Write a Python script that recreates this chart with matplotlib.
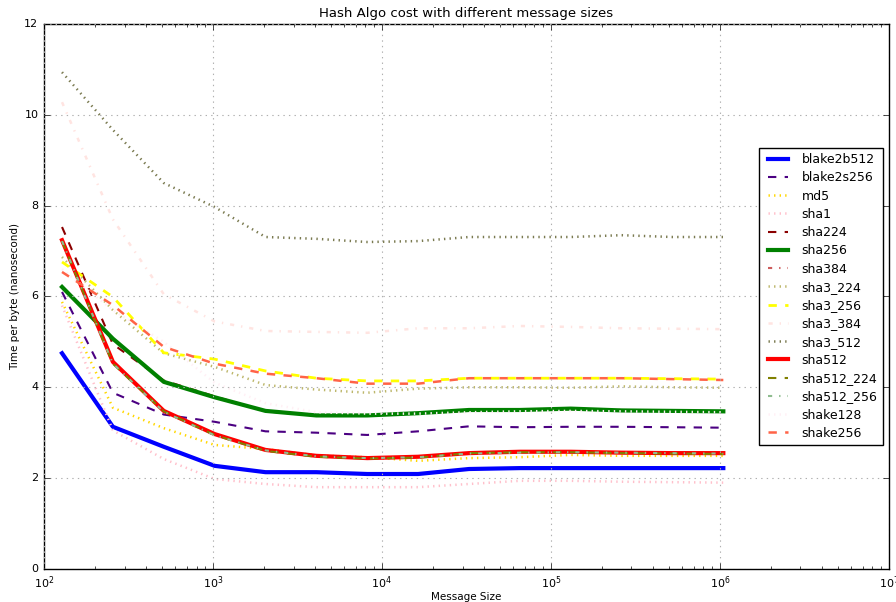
import numpy as np
import matplotlib
matplotlib.use("Agg")
import matplotlib.pyplot as plt

plt.style.use("classic")

sizes = [128, 256, 512, 1024, 2048, 4096, 8192, 16384, 32768,
         65536, 131072, 262144, 524288, 1048576]

blake2b512 = [4.75, 3.13, 2.69, 2.27, 2.13, 2.13, 2.09, 2.09, 2.20, 2.22, 2.22, 2.22, 2.22, 2.22]
blake2s256 = [6.10, 3.88, 3.40, 3.24, 3.03, 3.00, 2.95, 3.03, 3.14, 3.12, 3.13, 3.13, 3.12, 3.11]
md5 = [5.88, 3.55, 3.10, 2.73, 2.64, 2.50, 2.46, 2.38, 2.44, 2.46, 2.51, 2.49, 2.49, 2.49]
sha1 = [5.80, 3.05, 2.42, 1.98, 1.87, 1.80, 1.80, 1.80, 1.87, 1.94, 1.94, 1.92, 1.91, 1.90]
sha224 = [7.53, 4.95, 4.15, 3.80, 3.47, 3.38, 3.38, 3.44, 3.48, 3.50, 3.52, 3.50, 3.49, 3.47]
sha256 = [6.21, 5.07, 4.12, 3.78, 3.48, 3.38, 3.38, 3.43, 3.50, 3.50, 3.53, 3.49, 3.48, 3.47]
sha384 = [7.25, 4.55, 3.48, 2.95, 2.62, 2.50, 2.45, 2.47, 2.56, 2.58, 2.58, 2.56, 2.55, 2.55]
sha3_224 = [6.87, 5.70, 4.75, 4.45, 4.05, 3.95, 3.88, 3.97, 4.00, 4.00, 3.99, 4.02, 4.00, 3.99]
sha3_256 = [6.76, 5.99, 4.76, 4.62, 4.36, 4.20, 4.14, 4.14, 4.20, 4.20, 4.20, 4.20, 4.19, 4.18]
sha3_384 = [10.28, 7.70, 6.05, 5.45, 5.24, 5.22, 5.20, 5.30, 5.30, 5.35, 5.33, 5.30, 5.29, 5.28]
sha3_512 = [10.94, 9.67, 8.50, 7.97, 7.31, 7.27, 7.20, 7.22, 7.31, 7.31, 7.31, 7.35, 7.31, 7.31]
sha512 = [7.24, 4.56, 3.48, 2.97, 2.62, 2.49, 2.44, 2.47, 2.55, 2.58, 2.58, 2.56, 2.55, 2.55]
sha512_224 = [7.22, 4.52, 3.47, 2.95, 2.60, 2.47, 2.43, 2.45, 2.55, 2.57, 2.57, 2.55, 2.54, 2.53]
sha512_256 = [7.22, 4.52, 3.46, 2.94, 2.61, 2.48, 2.44, 2.46, 2.54, 2.56, 2.57, 2.56, 2.55, 2.54]
shake128 = [6.60, 5.70, 5.00, 4.10, 3.65, 3.45, 3.42, 3.42, 3.45, 3.47, 3.48, 3.47, 3.46, 3.45]
shake256 = [6.54, 5.81, 4.89, 4.52, 4.30, 4.20, 4.08, 4.08, 4.20, 4.20, 4.20, 4.20, 4.18, 4.16]

series = [
    ("blake2b512", blake2b512, "blue", "-", 3),
    ("blake2s256", blake2s256, "indigo", "--", 1.5),
    ("md5", md5, "gold", ":", 1.8),
    ("sha1", sha1, "pink", ":", 1.8),
    ("sha224", sha224, "darkred", "--", 1.5),
    ("sha256", sha256, "green", "-", 3),
    ("sha384", sha384, "indianred", "-.", 1.5),
    ("sha3_224", sha3_224, "darkkhaki", ":", 1.8),
    ("sha3_256", sha3_256, "yellow", "--", 2),
    ("sha3_384", sha3_384, "mistyrose", "-.", 1.8),
    ("sha3_512", sha3_512, "#7a7a50", ":", 1.8),
    ("sha512", sha512, "red", "-", 3),
    ("sha512_224", sha512_224, "olive", "--", 1.5),
    ("sha512_256", sha512_256, "darkseagreen", "-.", 1.5),
    ("shake128", shake128, "lavenderblush", ":", 1.8),
    ("shake256", shake256, "tomato", "--", 1.8),
]

fig = plt.figure(figsize=(8.96, 6.02), dpi=100)
ax = fig.add_axes([0.049, 0.055, 0.943, 0.905])

for name, vals, color, ls, lw in series:
    ax.plot(sizes, vals, color=color, linestyle=ls, linewidth=lw, label=name)

ax.set_xscale("log")
ax.set_xlim(1e2, 1e7)
ax.set_ylim(0, 12)
ax.grid(True, color="#b0b0b0", linestyle=":", linewidth=0.8)
ax.tick_params(labelsize=8)
ax.set_title("Hash Algo cost with different message sizes", fontsize=9.5)
ax.set_xlabel("Message Size", fontsize=7.5, labelpad=1)
ax.set_ylabel("Time per byte (nanosecond)", fontsize=7.5, labelpad=3)
ax.legend(loc="center right", fontsize=9, handlelength=2.2, labelspacing=0.42)

fig.savefig("out.png", dpi=100)
